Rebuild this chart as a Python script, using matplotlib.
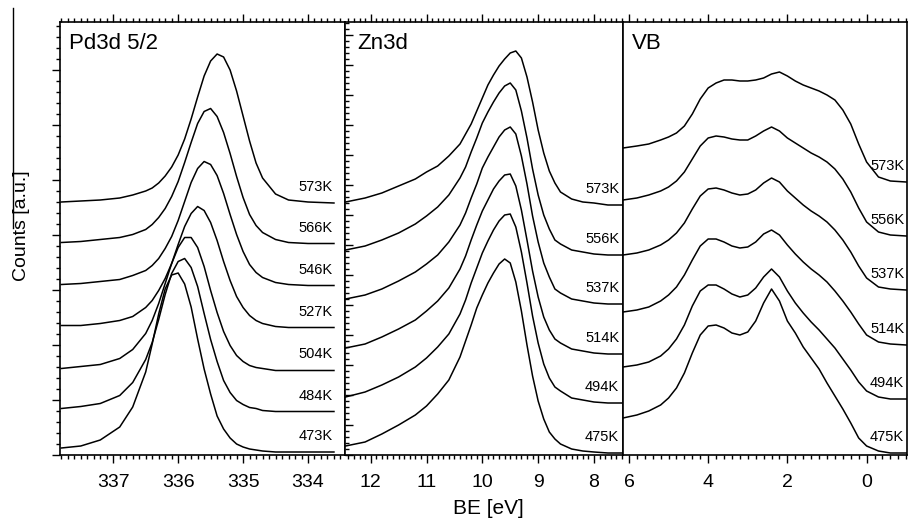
import matplotlib
matplotlib.use("Agg")
import matplotlib.pyplot as plt
from matplotlib.ticker import MultipleLocator
from matplotlib.lines import Line2D

plt.rcParams['font.family'] = ['Liberation Sans', 'DejaVu Sans']

# ---------------- data ----------------
# Pd 3d5/2 core level, binding energy grid [eV]
pd_be = [337.8, 337.5, 337.2, 336.9, 336.7, 336.5, 336.4, 336.3, 336.2, 336.1,
         336.0, 335.9, 335.8, 335.7, 335.6, 335.5, 335.4, 335.3, 335.2, 335.1,
         335.0, 334.9, 334.8, 334.7, 334.5, 334.3, 334.0, 333.6]
pd_temps = ["573K", "566K", "546K", "527K", "504K", "484K", "473K"]
pd_counts = [
    [1, 2, 3, 5, 8, 12, 15, 20, 27, 36, 48, 64, 84, 106, 127, 142, 149, 146, 133, 112,
     87, 62, 40, 25, 9, 3, 1, 0],
    [1, 2, 4, 6, 9, 14, 19, 26, 35, 47, 62, 81, 101, 120, 132, 135, 127, 111, 90, 67,
     46, 29, 18, 11, 4, 1, 0, 0],
    [1, 2, 4, 6, 10, 15, 20, 27, 37, 49, 65, 84, 103, 117, 124, 121, 110, 92, 71, 51,
     34, 21, 13, 8, 3, 1, 0, 0],
    [2, 2, 4, 7, 11, 20, 27, 37, 49, 64, 83, 101, 114, 121, 117, 105, 87, 66, 47, 31,
     20, 12, 7, 4, 1, 0, 0, 0],
    [2, 4, 6, 12, 21, 37, 50, 67, 87, 107, 123, 133, 133, 123, 104, 80, 58, 39, 25, 15,
     9, 5, 3, 2, 0, 0, 0, 0],
    [3, 5, 8, 16, 29, 52, 69, 92, 117, 138, 150, 153, 144, 125, 98, 72, 50, 31, 19, 11,
     7, 4, 3, 1, 0, 0, 0, 0],
    [4, 6, 12, 25, 45, 80, 108, 138, 163, 177, 179, 168, 145, 113, 83, 58, 36, 23, 14, 8,
     5, 3, 2, 1, 0, 0, 0, 0],
]

# Zn 3d core level
zn_be = [12.45, 12.1, 11.8, 11.5, 11.2, 11.0, 10.8, 10.6, 10.4, 10.3, 10.2, 10.1,
         10.0, 9.9, 9.8, 9.7, 9.6, 9.5, 9.4, 9.3, 9.2, 9.1, 9.0, 8.9, 8.8, 8.7,
         8.6, 8.4, 8.2, 8.0, 7.75, 7.5]
zn_temps = ["573K", "556K", "537K", "514K", "494K", "475K"]
zn_counts = [
    [3, 7, 12, 19, 26, 33, 39, 49, 61, 71, 81, 94, 107, 120, 130, 139, 146, 152, 154,
     147, 128, 103, 75, 52, 34, 22, 13, 6, 3, 2, 0, 0],
    [5, 9, 15, 22, 31, 39, 48, 60, 77, 88, 103, 117, 132, 143, 153, 162, 169, 172, 165,
     144, 117, 86, 60, 40, 26, 15, 11, 5, 3, 1, 0, 0],
    [5, 9, 15, 23, 32, 40, 49, 62, 79, 91, 106, 120, 136, 147, 157, 167, 174, 177, 170,
     148, 120, 88, 62, 41, 27, 15, 11, 5, 3, 1, 0, 0],
    [6, 10, 17, 25, 34, 43, 53, 66, 85, 98, 114, 129, 143, 154, 165, 173, 179, 180, 168,
     144, 114, 83, 57, 37, 24, 15, 11, 5, 3, 1, 0, 0],
    [6, 11, 18, 26, 36, 45, 56, 69, 89, 103, 120, 135, 150, 162, 173, 182, 188, 189, 176,
     151, 120, 87, 60, 39, 25, 16, 12, 5, 3, 1, 0, 0],
    [7, 11, 19, 28, 38, 47, 59, 73, 96, 112, 128, 145, 158, 170, 180, 189, 194, 190, 171,
     142, 108, 77, 52, 34, 21, 14, 9, 4, 2, 1, 0, 0],
]

# valence band
vb_be = [6.15, 5.8, 5.5, 5.2, 5.0, 4.8, 4.6, 4.4, 4.2, 4.0, 3.8, 3.6, 3.4, 3.2, 3.0,
         2.8, 2.6, 2.4, 2.2, 2.0, 1.8, 1.6, 1.4, 1.2, 1.0, 0.8, 0.6, 0.4, 0.2, 0.0,
         -0.3, -0.6, -1.0]
vb_temps = ["573K", "556K", "537K", "514K", "494K", "475K"]
vb_counts = [
    [34, 36, 38, 42, 45, 49, 56, 68, 83, 94, 99, 102, 102, 101, 101, 102, 104, 108, 110,
     106, 101, 97, 94, 91, 87, 82, 72, 58, 38, 20, 5, 1, 0],
    [36, 38, 41, 45, 49, 55, 64, 77, 90, 98, 100, 99, 97, 96, 96, 100, 105, 109, 105,
     98, 93, 88, 83, 79, 74, 67, 57, 44, 28, 14, 4, 1, 0],
    [35, 37, 40, 45, 50, 57, 67, 81, 94, 101, 102, 100, 97, 95, 96, 100, 107, 112, 108,
     99, 92, 85, 79, 74, 68, 60, 50, 38, 24, 12, 3, 1, 0],
    [33, 35, 38, 44, 50, 58, 70, 85, 99, 106, 106, 103, 99, 97, 98, 103, 111, 115, 110,
     100, 91, 83, 76, 70, 63, 54, 44, 33, 21, 10, 3, 1, 0],
    [32, 34, 37, 43, 50, 60, 74, 93, 108, 114, 114, 110, 105, 102, 104, 111, 122, 130,
     122, 108, 96, 86, 77, 69, 60, 51, 40, 29, 17, 8, 2, 0, 0],
    [35, 38, 42, 48, 55, 65, 80, 100, 118, 127, 128, 125, 120, 118, 121, 132, 150, 164,
     152, 132, 120, 106, 95, 84, 70, 57, 44, 30, 15, 7, 2, 0, 0],
]

# vertical stacking of the spectra (top spectrum first)
pd_offsets = [252, 211.5, 169.5, 127.5, 84.5, 43.5, 3]
zn_offsets = [250, 200, 151, 101, 52, 2]
vb_offsets = [273, 219, 165, 110, 56, 2]

# ---------------- layout ----------------
W, H = 910, 521
fig = plt.figure(figsize=(W / 100, H / 100), dpi=100)


def rect(x0, x1, y0=22, y1=455):
    return [x0 / W, 1 - y1 / H, (x1 - x0) / W, (y1 - y0) / H]


ax1 = fig.add_axes(rect(60, 345))
ax2 = fig.add_axes(rect(345, 623))
ax3 = fig.add_axes(rect(623, 907))

panels = [
    (ax1, pd_be, pd_counts, pd_offsets, pd_temps, (337.82, 333.43), 1.0, 0.1, "Pd3d 5/2", 333.62),
    (ax2, zn_be, zn_counts, zn_offsets, zn_temps, (12.46, 7.48), 1.0, 0.1, "Zn3d", 7.55),
    (ax3, vb_be, vb_counts, vb_offsets, vb_temps, (6.15, -1.02), 2.0, 0.2, "VB", -0.95),
]

for ax, be, counts, offs, temps, xl, maj, mnr, title, xlab in panels:
    for c, off, t in zip(counts, offs, temps):
        ax.plot(be, [v + off for v in c], color="black", lw=1.1)
        ax.text(xlab, off + 16, t, ha="right", va="center", fontsize=10.5)
    ax.set_xlim(*xl)
    ax.set_ylim(0, 433)
    ax.xaxis.set_major_locator(MultipleLocator(maj))
    ax.xaxis.set_minor_locator(MultipleLocator(mnr))
    ax.tick_params(axis="x", which="both", direction="out", top=True, bottom=True,
                   labelsize=14, pad=8, width=1)
    ax.tick_params(axis="x", which="major", length=6)
    ax.tick_params(axis="x", which="minor", length=3)
    ax.set_yticklabels([])
    for s in ax.spines.values():
        s.set_linewidth(1.2)
    ax.text(0.03 if ax is not ax2 else 0.045, 0.95, title, transform=ax.transAxes,
            ha="left", va="center", fontsize=16)

# y ticks: outward on the first panel, inward on the second, none on the third
ax1.yaxis.set_major_locator(MultipleLocator(55))
ax1.yaxis.set_minor_locator(MultipleLocator(11))
ax1.tick_params(axis="y", which="both", direction="out", left=True, right=False, width=1)
ax1.tick_params(axis="y", which="major", length=6)
ax1.tick_params(axis="y", which="minor", length=3)
ax1.set_yticklabels([])

ax2.yaxis.set_major_locator(MultipleLocator(30))
ax2.yaxis.set_minor_locator(MultipleLocator(6))
ax2.tick_params(axis="y", which="both", direction="in", left=True, right=False, width=1)
ax2.tick_params(axis="y", which="major", length=6)
ax2.tick_params(axis="y", which="minor", length=3)
ax2.set_yticklabels([])

ax3.tick_params(axis="y", which="both", left=False, right=False)
ax3.set_yticks([])

fig.text(22 / W, 1 - 226 / H, "Counts [a.u.]", rotation=90, ha="center", va="center",
         fontsize=14)
fig.add_artist(Line2D([13 / W, 13 / W], [1 - 8 / H, 1 - 228 / H], color="black", lw=1))
fig.text(488 / W, 1 - 509 / H, "BE [eV]", ha="center", va="center", fontsize=15)

fig.savefig("out.png", dpi=100)
